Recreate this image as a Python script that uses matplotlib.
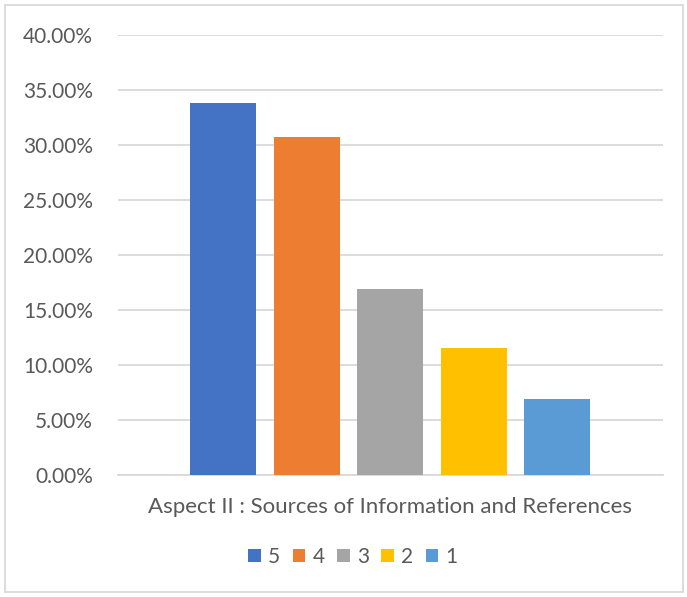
import matplotlib
matplotlib.use("Agg")
import matplotlib.pyplot as plt
from matplotlib.patches import Rectangle
from matplotlib.ticker import FuncFormatter

categories = ["Aspect II : Sources of Information and References"]
series_names = ["5", "4", "3", "2", "1"]
values = [0.3385, 0.3077, 0.1692, 0.1154, 0.0692]
colors = ["#4472C4", "#ED7D31", "#A5A5A5", "#FFC000", "#5B9BD5"]
y_ticks = [0.0, 0.05, 0.10, 0.15, 0.20, 0.25, 0.30, 0.35, 0.40]

plt.rcParams["font.family"] = ["Lato", "DejaVu Sans"]
text_color = "#595959"

fig = plt.figure(figsize=(6.87, 5.97), dpi=100)
ax = fig.add_axes([118 / 687, 1 - 475 / 597, (663 - 118) / 687, 440 / 597])

bar_w = 66 / 545
step = 83.5 / 545
n = len(values)
center = (390 - 118) / 545
for i, (name, v, c) in enumerate(zip(series_names, values, colors)):
    x = center + (i - (n - 1) / 2) * step
    ax.bar(x, v, width=bar_w, color=c, label=name, zorder=3)

ax.set_xlim(0, 1)
ax.set_ylim(0, 0.40)
ax.set_yticks(y_ticks)
ax.yaxis.set_major_formatter(FuncFormatter(lambda v, p: f"{v * 100:.2f}%"))
ax.set_xticks([])
ax.grid(axis="y", color="#D9D9D9", linewidth=1.3, zorder=0)
for s in ["top", "right", "left"]:
    ax.spines[s].set_visible(False)
ax.spines["bottom"].set_color("#D9D9D9")
ax.spines["bottom"].set_linewidth(1.3)
ax.tick_params(axis="y", length=0, pad=18, labelsize=15, labelcolor=text_color)
ax.set_xlabel(categories[0], fontsize=16, color=text_color, labelpad=16)

leg = fig.legend(loc="center", bbox_to_anchor=(353 / 687, 1 - 557 / 597), ncol=5,
                 frameon=False, fontsize=15, handlelength=0.6, handleheight=0.6,
                 handletextpad=0.35, columnspacing=0.6, labelcolor=text_color)

fig.patches.append(Rectangle((5 / 687, 5 / 597), 678 / 687, 587 / 597,
                             transform=fig.transFigure, fill=False,
                             edgecolor="#D9D9D9", linewidth=1.3))

fig.savefig("out.png", dpi=100)
